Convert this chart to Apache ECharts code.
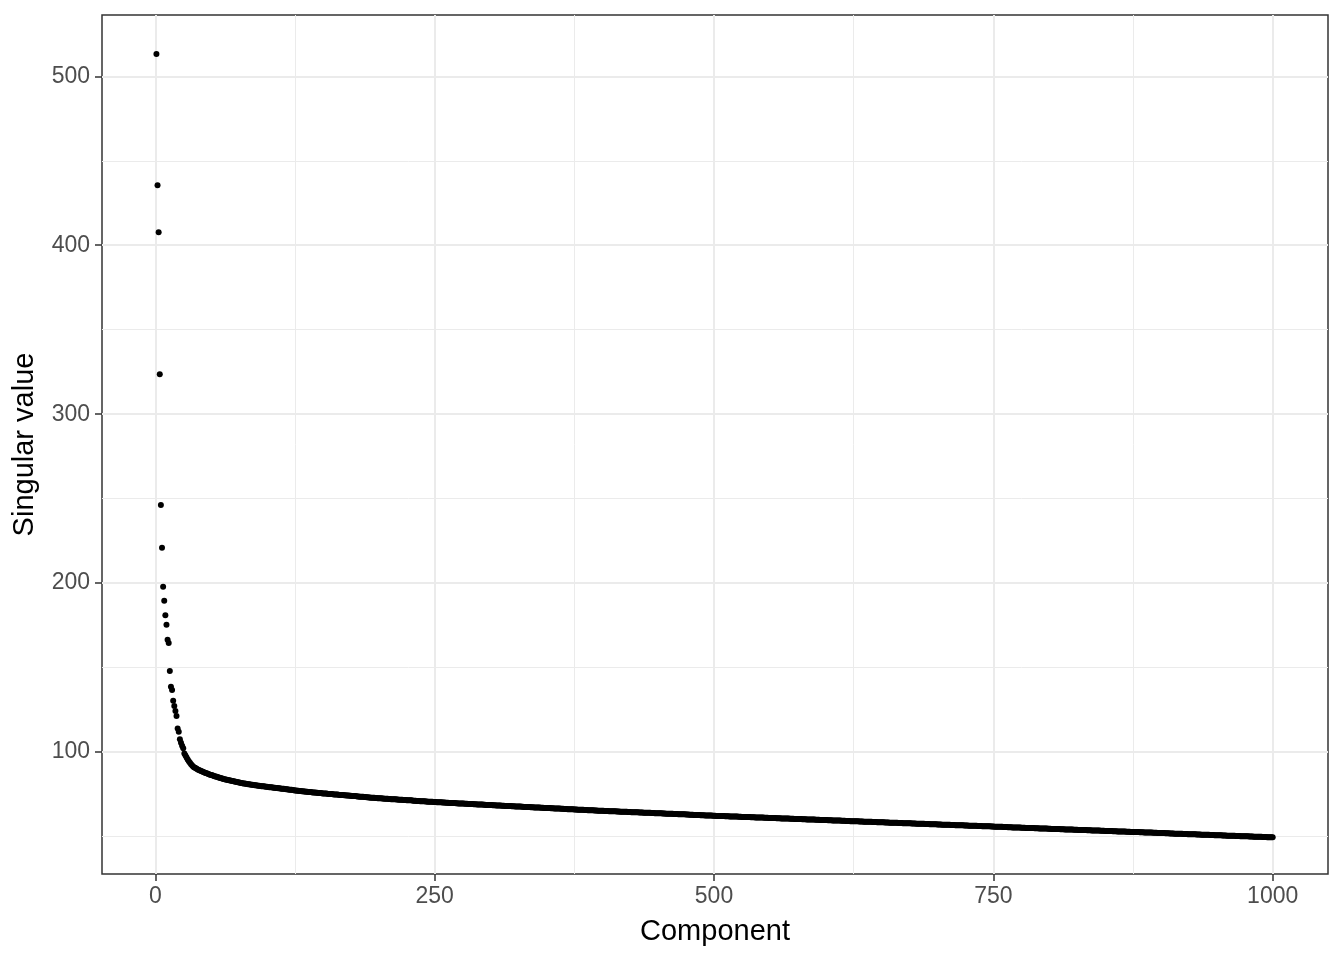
<!DOCTYPE html>
<html>
<head>
<meta charset="utf-8">
<script src="https://cdn.jsdelivr.net/npm/echarts@6.0.0/dist/echarts.min.js"></script>
<style>
html, body { margin: 0; padding: 0; background: #ffffff; }
#chart { width: 1344px; height: 960px; }
</style>
</head>
<body>
<div id="chart"></div>
<script>
// Singular values, component 1..1000
const sv001_100 = [513.2, 435.5, 407.7, 323.7, 246.2, 220.9, 197.8, 189.5, 180.9, 175.4,
  166.5, 164.5, 148.0, 138.6, 136.7, 130.4, 127.2, 124.3, 121.3, 114.0,
  112.0, 107.5, 105.5, 103.7, 102.2, 99.2, 97.9, 96.7, 95.6, 94.6,
  93.7, 92.8, 92.0, 91.3, 90.9, 90.5, 90.1, 89.7, 89.4, 89.1,
  88.8, 88.5, 88.2, 87.9, 87.6, 87.4, 87.1, 86.9, 86.6, 86.4,
  86.2, 86.0, 85.7, 85.5, 85.3, 85.1, 84.9, 84.7, 84.5, 84.3,
  84.1, 83.9, 83.8, 83.6, 83.5, 83.3, 83.2, 83.0, 82.9, 82.7,
  82.6, 82.4, 82.3, 82.1, 82.0, 81.8, 81.6, 81.5, 81.4, 81.3,
  81.2, 81.1, 81.0, 80.9, 80.8, 80.7, 80.6, 80.5, 80.4, 80.3,
  80.2, 80.1, 80.0, 79.9, 79.8, 79.7, 79.7, 79.6, 79.5, 79.4];
const sv101_200 = [79.3, 79.2, 79.2, 79.1, 79.0, 78.9, 78.8, 78.7, 78.7, 78.6,
  78.5, 78.4, 78.3, 78.2, 78.2, 78.1, 78.0, 77.9, 77.8, 77.7,
  77.7, 77.6, 77.5, 77.4, 77.3, 77.2, 77.1, 77.1, 77.0, 76.9,
  76.8, 76.8, 76.7, 76.6, 76.5, 76.5, 76.4, 76.3, 76.3, 76.2,
  76.1, 76.1, 76.0, 75.9, 75.9, 75.8, 75.7, 75.7, 75.6, 75.5,
  75.5, 75.4, 75.4, 75.3, 75.2, 75.2, 75.1, 75.1, 75.0, 74.9,
  74.9, 74.8, 74.8, 74.7, 74.6, 74.6, 74.5, 74.5, 74.4, 74.4,
  74.3, 74.2, 74.2, 74.1, 74.1, 74.0, 74.0, 73.9, 73.9, 73.8,
  73.7, 73.7, 73.6, 73.6, 73.5, 73.5, 73.4, 73.4, 73.3, 73.3,
  73.1, 73.1, 73.0, 73.0, 72.9, 72.9, 72.8, 72.8, 72.7, 72.7];
const sv201_300 = [72.6, 72.6, 72.5, 72.5, 72.4, 72.4, 72.3, 72.3, 72.2, 72.2,
  72.1, 72.1, 72.0, 72.0, 72.0, 71.9, 71.9, 71.8, 71.8, 71.7,
  71.7, 71.6, 71.6, 71.6, 71.5, 71.5, 71.4, 71.4, 71.4, 71.3,
  71.2, 71.1, 71.1, 71.0, 71.0, 71.0, 70.9, 70.9, 70.8, 70.8,
  70.8, 70.7, 70.7, 70.6, 70.6, 70.6, 70.5, 70.5, 70.4, 70.4,
  70.4, 70.3, 70.3, 70.3, 70.2, 70.2, 70.1, 70.1, 70.1, 70.0,
  70.0, 70.0, 69.9, 69.9, 69.9, 69.8, 69.8, 69.8, 69.7, 69.7,
  69.6, 69.6, 69.6, 69.5, 69.5, 69.5, 69.4, 69.4, 69.4, 69.3,
  69.3, 69.2, 69.2, 69.2, 69.1, 69.1, 69.1, 69.0, 69.0, 69.0,
  68.9, 68.9, 68.9, 68.8, 68.8, 68.7, 68.7, 68.7, 68.6, 68.6];
const sv301_400 = [68.6, 68.5, 68.5, 68.5, 68.4, 68.4, 68.4, 68.3, 68.3, 68.2,
  68.2, 68.2, 68.1, 68.1, 68.1, 68.0, 68.0, 68.0, 67.9, 67.9,
  67.9, 67.8, 67.8, 67.8, 67.7, 67.7, 67.7, 67.6, 67.6, 67.5,
  67.5, 67.5, 67.4, 67.4, 67.4, 67.3, 67.3, 67.3, 67.2, 67.2,
  67.2, 67.1, 67.1, 67.1, 67.0, 67.0, 67.0, 66.9, 66.9, 66.8,
  66.8, 66.8, 66.8, 66.7, 66.7, 66.7, 66.6, 66.6, 66.6, 66.5,
  66.5, 66.5, 66.4, 66.4, 66.4, 66.3, 66.3, 66.3, 66.2, 66.2,
  66.2, 66.1, 66.1, 66.1, 66.0, 66.0, 66.0, 65.9, 65.9, 65.9,
  65.8, 65.8, 65.8, 65.7, 65.7, 65.7, 65.6, 65.6, 65.6, 65.5,
  65.5, 65.5, 65.4, 65.4, 65.4, 65.3, 65.3, 65.3, 65.2, 65.2];
const sv401_500 = [65.2, 65.1, 65.1, 65.1, 65.1, 65.0, 65.0, 65.0, 64.9, 64.9,
  64.9, 64.9, 64.8, 64.8, 64.8, 64.7, 64.7, 64.7, 64.6, 64.6,
  64.6, 64.6, 64.5, 64.5, 64.5, 64.4, 64.4, 64.4, 64.4, 64.3,
  64.3, 64.3, 64.2, 64.2, 64.2, 64.2, 64.1, 64.1, 64.1, 64.0,
  64.0, 64.0, 64.0, 63.9, 63.9, 63.9, 63.8, 63.8, 63.8, 63.7,
  63.7, 63.7, 63.7, 63.6, 63.6, 63.6, 63.5, 63.5, 63.5, 63.5,
  63.4, 63.4, 63.4, 63.3, 63.3, 63.3, 63.3, 63.2, 63.2, 63.2,
  63.1, 63.1, 63.1, 63.1, 63.0, 63.0, 63.0, 62.9, 62.9, 62.9,
  62.9, 62.8, 62.8, 62.8, 62.7, 62.7, 62.7, 62.6, 62.6, 62.6,
  62.6, 62.5, 62.5, 62.5, 62.4, 62.4, 62.4, 62.4, 62.3, 62.3];
const sv501_600 = [62.3, 62.2, 62.2, 62.2, 62.2, 62.1, 62.1, 62.1, 62.1, 62.0,
  62.0, 62.0, 62.0, 61.9, 61.9, 61.9, 61.9, 61.8, 61.8, 61.8,
  61.8, 61.7, 61.7, 61.7, 61.6, 61.6, 61.6, 61.6, 61.5, 61.5,
  61.5, 61.5, 61.4, 61.4, 61.4, 61.4, 61.3, 61.3, 61.3, 61.3,
  61.2, 61.2, 61.2, 61.2, 61.1, 61.1, 61.1, 61.1, 61.0, 61.0,
  61.0, 60.9, 60.9, 60.9, 60.9, 60.8, 60.8, 60.8, 60.8, 60.7,
  60.7, 60.7, 60.7, 60.6, 60.6, 60.6, 60.6, 60.5, 60.5, 60.5,
  60.5, 60.4, 60.4, 60.4, 60.3, 60.3, 60.3, 60.3, 60.2, 60.2,
  60.2, 60.2, 60.1, 60.1, 60.1, 60.1, 60.0, 60.0, 60.0, 60.0,
  59.9, 59.9, 59.9, 59.9, 59.8, 59.8, 59.8, 59.8, 59.7, 59.7];
const sv601_700 = [59.7, 59.6, 59.6, 59.6, 59.6, 59.5, 59.5, 59.5, 59.5, 59.4,
  59.4, 59.4, 59.4, 59.3, 59.3, 59.3, 59.3, 59.2, 59.2, 59.2,
  59.2, 59.1, 59.1, 59.1, 59.1, 59.0, 59.0, 59.0, 59.0, 58.9,
  58.9, 58.9, 58.9, 58.8, 58.8, 58.8, 58.8, 58.7, 58.7, 58.7,
  58.7, 58.6, 58.6, 58.6, 58.6, 58.5, 58.5, 58.5, 58.5, 58.4,
  58.4, 58.4, 58.3, 58.3, 58.3, 58.3, 58.2, 58.2, 58.2, 58.2,
  58.1, 58.1, 58.1, 58.1, 58.0, 58.0, 58.0, 58.0, 57.9, 57.9,
  57.9, 57.9, 57.8, 57.8, 57.8, 57.8, 57.7, 57.7, 57.7, 57.7,
  57.6, 57.6, 57.6, 57.6, 57.5, 57.5, 57.5, 57.5, 57.4, 57.4,
  57.4, 57.4, 57.3, 57.3, 57.3, 57.3, 57.2, 57.2, 57.2, 57.1];
const sv701_800 = [57.1, 57.1, 57.1, 57.0, 57.0, 57.0, 57.0, 56.9, 56.9, 56.9,
  56.9, 56.8, 56.8, 56.8, 56.8, 56.7, 56.7, 56.7, 56.7, 56.6,
  56.6, 56.6, 56.6, 56.5, 56.5, 56.5, 56.5, 56.4, 56.4, 56.4,
  56.4, 56.3, 56.3, 56.3, 56.3, 56.2, 56.2, 56.2, 56.2, 56.1,
  56.1, 56.1, 56.1, 56.0, 56.0, 56.0, 56.0, 55.9, 55.9, 55.9,
  55.8, 55.8, 55.8, 55.8, 55.7, 55.7, 55.7, 55.7, 55.6, 55.6,
  55.6, 55.6, 55.5, 55.5, 55.5, 55.5, 55.4, 55.4, 55.4, 55.4,
  55.3, 55.3, 55.3, 55.3, 55.2, 55.2, 55.2, 55.2, 55.1, 55.1,
  55.1, 55.1, 55.0, 55.0, 55.0, 55.0, 54.9, 54.9, 54.9, 54.9,
  54.8, 54.8, 54.8, 54.8, 54.7, 54.7, 54.7, 54.7, 54.6, 54.6];
const sv801_900 = [54.6, 54.5, 54.5, 54.5, 54.5, 54.4, 54.4, 54.4, 54.4, 54.3,
  54.3, 54.3, 54.3, 54.2, 54.2, 54.2, 54.2, 54.1, 54.1, 54.1,
  54.1, 54.0, 54.0, 54.0, 54.0, 53.9, 53.9, 53.9, 53.9, 53.8,
  53.8, 53.8, 53.8, 53.7, 53.7, 53.7, 53.7, 53.6, 53.6, 53.6,
  53.6, 53.5, 53.5, 53.5, 53.5, 53.4, 53.4, 53.4, 53.4, 53.3,
  53.3, 53.3, 53.2, 53.2, 53.2, 53.2, 53.1, 53.1, 53.1, 53.1,
  53.0, 53.0, 53.0, 53.0, 52.9, 52.9, 52.9, 52.9, 52.8, 52.8,
  52.8, 52.8, 52.7, 52.7, 52.7, 52.7, 52.6, 52.6, 52.6, 52.6,
  52.5, 52.5, 52.5, 52.5, 52.4, 52.4, 52.4, 52.4, 52.3, 52.3,
  52.3, 52.3, 52.2, 52.2, 52.2, 52.2, 52.1, 52.1, 52.1, 52.0];
const sv901_1000 = [52.0, 52.0, 52.0, 51.9, 51.9, 51.9, 51.9, 51.8, 51.8, 51.8,
  51.8, 51.7, 51.7, 51.7, 51.7, 51.6, 51.6, 51.6, 51.6, 51.5,
  51.5, 51.5, 51.5, 51.4, 51.4, 51.4, 51.4, 51.3, 51.3, 51.3,
  51.3, 51.2, 51.2, 51.2, 51.2, 51.1, 51.1, 51.1, 51.1, 51.0,
  51.0, 51.0, 51.0, 50.9, 50.9, 50.9, 50.9, 50.8, 50.8, 50.8,
  50.7, 50.7, 50.7, 50.7, 50.6, 50.6, 50.6, 50.6, 50.5, 50.5,
  50.5, 50.5, 50.4, 50.4, 50.4, 50.4, 50.3, 50.3, 50.3, 50.3,
  50.2, 50.2, 50.2, 50.2, 50.1, 50.1, 50.1, 50.1, 50.0, 50.0,
  50.0, 50.0, 49.9, 49.9, 49.9, 49.9, 49.8, 49.8, 49.8, 49.8,
  49.7, 49.7, 49.7, 49.7, 49.6, 49.6, 49.6, 49.6, 49.5, 49.5];

// Axis ticks and grid positions
const xTicks = [0, 250, 500, 750, 1000];
const xMinor = [125, 375, 625, 875];
const yTicks = [100, 200, 300, 400, 500];
const yMinor = [50, 150, 250, 350, 450];

const singularValues = [].concat(sv001_100, sv101_200, sv201_300, sv301_400, sv401_500,
  sv501_600, sv601_700, sv701_800, sv801_900, sv901_1000);
const points = singularValues.map((v, i) => [i + 1, v]);

const FONT = '"Liberation Sans", Arial, Helvetica, sans-serif';
const GRID = '#EBEBEB';

const gridLines = []
  .concat(xMinor.map(v => ({ xAxis: v, lineStyle: { width: 1 } })))
  .concat(yMinor.map(v => ({ yAxis: v, lineStyle: { width: 1 } })))
  .concat(xTicks.map(v => ({ xAxis: v, lineStyle: { width: 2 } })))
  .concat(yTicks.map(v => ({ yAxis: v, lineStyle: { width: 2 } })));

const chart = echarts.init(document.getElementById('chart'), null, { renderer: 'canvas' });
chart.setOption({
  animation: false,
  backgroundColor: '#ffffff',
  textStyle: { fontFamily: FONT },
  grid: {
    left: 102, right: 16, top: 15, bottom: 86,
    show: true, borderColor: '#333333', borderWidth: 1.5, backgroundColor: '#ffffff'
  },
  xAxis: {
    type: 'value', min: -47.7, max: 1049.5,
    axisLine: { show: false, onZero: false },
    axisTick: { show: true, customValues: xTicks, length: 7, lineStyle: { color: '#333333', width: 1.5 } },
    axisLabel: { customValues: xTicks, formatter: v => String(v), color: '#4D4D4D', fontSize: 23, margin: 11, fontFamily: FONT },
    splitLine: { show: false },
    name: 'Component', nameLocation: 'middle', nameGap: 43,
    nameTextStyle: { fontSize: 29, color: '#000000', fontFamily: FONT }
  },
  yAxis: {
    type: 'value', min: 27.8, max: 536.3,
    axisLine: { show: false, onZero: false },
    axisTick: { show: true, customValues: yTicks, length: 7, lineStyle: { color: '#333333', width: 1.5 } },
    axisLabel: { customValues: yTicks, formatter: v => String(v), color: '#4D4D4D', fontSize: 23, margin: 12, fontFamily: FONT },
    splitLine: { show: false },
    name: 'Singular value', nameLocation: 'middle', nameGap: 63, nameRotate: 90,
    nameTextStyle: { fontSize: 29, color: '#000000', fontFamily: FONT }
  },
  series: [
    {
      type: 'scatter', data: [], z: 1, silent: true,
      markLine: {
        silent: true, symbol: ['none', 'none'], animation: false,
        label: { show: false },
        lineStyle: { color: GRID, type: 'solid' },
        emphasis: { disabled: true },
        data: gridLines
      }
    },
    {
      type: 'scatter', data: points, z: 5,
      symbol: 'circle', symbolSize: 6,
      itemStyle: { color: '#000000', opacity: 1 },
      large: false
    }
  ]
});
</script>
</body>
</html>
